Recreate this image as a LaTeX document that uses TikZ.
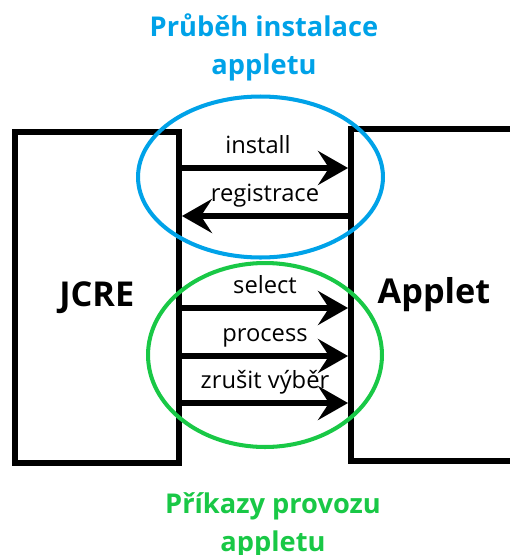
\documentclass[tikz,border=0pt]{standalone}
\usepackage{fontspec}
\setmainfont{Open Sans}
\usetikzlibrary{arrows.meta}
\definecolor{instblue}{RGB}{0,162,232}
\definecolor{provgreen}{RGB}{25,200,70}

\begin{document}
\begin{tikzpicture}[x=0.02cm, y=-0.02cm,
  box/.style={draw, line width=3.4pt, rectangle, inner sep=0pt,
    font=\bfseries\fontsize{19.5}{21}\selectfont},
  msg/.style={line width=3.2pt, -{Stealth[length=0.6cm, width=0.68cm, inset=0.22cm]}},
  lbl/.style={anchor=base, yshift=0.3cm, font=\fontsize{13.5}{16}\selectfont},
  title/.style={align=center, font=\bfseries\fontsize{15.5}{21.5}\selectfont}]

\useasboundingbox (0,0) rectangle (510,555);

\node [box, minimum width=3.29cm, minimum height=6.62cm] (jcre) at (96.75,297.5) {JCRE};
\node [box, minimum width=3.32cm, minimum height=6.64cm] (applet) at (434,295) {Applet};

\draw[msg] (jcre.east |- 0,168) -- node[lbl, xshift=-0.14cm] {install} (applet.west |- 0,168);
\draw[msg] (applet.west |- 0,216) -- node[lbl] {registrace} (jcre.east |- 0,216);
\draw[msg] (jcre.east |- 0,308) -- node[lbl] {select} (applet.west |- 0,308);
\draw[msg] (jcre.east |- 0,356) -- node[lbl] {process} (applet.west |- 0,356);
\draw[msg] (jcre.east |- 0,403) -- node[lbl] {zrušit výběr} (applet.west |- 0,403);

\draw[instblue, line width=2.3pt] (260.5,177) ellipse [x radius=2.45cm, y radius=1.61cm];
\draw[provgreen, line width=2.3pt] (265,355) ellipse [x radius=2.34cm, y radius=1.84cm];

\node [title, text=instblue] (instnote) at (264,47) {Průběh instalace\\appletu};
\node [title, text=provgreen] (provnote) at (273,525) {Příkazy provozu\\appletu};

\end{tikzpicture}
\end{document}
